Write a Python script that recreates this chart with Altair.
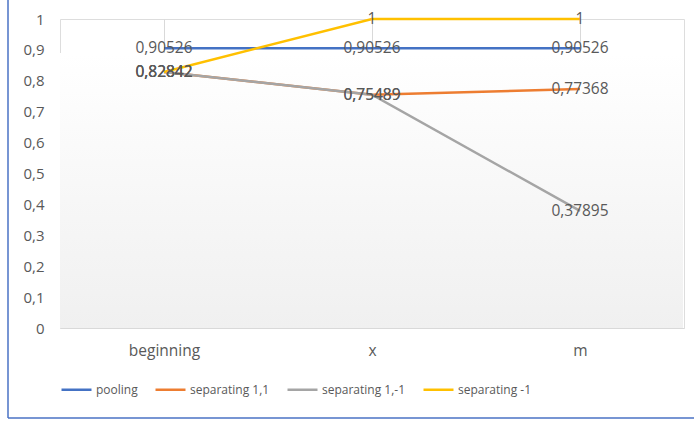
import altair as alt
import pandas as pd

# Stages on the x axis
stages = ["beginning", "x", "m"]

# One value per stage for each strategy
series_names = ["pooling", "separating 1,1", "separating 1,-1", "separating -1"]
pooling = [0.90526, 0.90526, 0.90526]
separating_1_1 = [0.82842, 0.75489, 0.77368]
separating_1_m1 = [0.82842, 0.75489, 0.37895]
separating_m1 = [0.82842, 1.0, 1.0]

colors = ["#4472C4", "#ED7D31", "#A5A5A5", "#FFC000"]

rows = []
for order, (name, vals) in enumerate(zip(series_names, [pooling, separating_1_1, separating_1_m1, separating_m1])):
    for stage, v in zip(stages, vals):
        rows.append({"stage": stage, "series": name, "value": v, "order": order})
df = pd.DataFrame(rows)

FONT = "Open Sans"
TXT = "#595959"
W, H = 624, 309
y_ticks = [0, 0.1, 0.2, 0.3, 0.4, 0.5, 0.6, 0.7, 0.8, 0.9, 1]

x_enc = alt.X("stage:N", sort=stages, title=None,
              scale=alt.Scale(type="point", padding=0.5),
              axis=alt.Axis(grid=True, gridColor="#D9D9D9", domainColor="#D9D9D9",
                            ticks=False, labelAngle=0, labelPadding=15,
                            labelFont=FONT, labelFontSize=15.5, labelColor=TXT))
y_enc = alt.Y("value:Q", title=None,
              scale=alt.Scale(domain=[0, 1], nice=False),
              axis=alt.Axis(values=y_ticks, tickCount=11,
                            grid=False, domain=False, ticks=False, labelPadding=16,
                            labelOverlap=False,
                            labelFont=FONT, labelFontSize=15, labelColor=TXT,
                            labelExpr="replace(format(datum.value, '.1~f'), '.', ',')"))
color_enc = alt.Color("series:N", sort=series_names,
                      scale=alt.Scale(domain=series_names, range=colors),
                      legend=alt.Legend(title=None, orient="none", direction="horizontal",
                                        legendX=0, legendY=354,
                                        symbolType="stroke", symbolSize=900,
                                        symbolStrokeWidth=2.5, labelOffset=3,
                                        columnPadding=12,
                                        labelFont=FONT, labelFontSize=12, labelColor=TXT))

one = pd.DataFrame({"k": [0]})

background = alt.Chart(one).mark_rect(
    color=alt.LinearGradient(gradient="linear",
                             stops=[alt.GradientStop(color="#FFFFFF", offset=0),
                                    alt.GradientStop(color="#F0F0F0", offset=1)],
                             x1=0, x2=0, y1=0, y2=1)
).encode(x=alt.value(0), x2=alt.value(623), y=alt.value(34), y2=alt.value(H))

base = alt.Chart(df)
lines = base.mark_line(strokeWidth=2.5).encode(
    x=x_enc, y=y_enc, color=color_enc, order="order:Q", detail="series:N")

labels = base.transform_calculate(
    label="replace(format(datum.value, '.5~f'), '.', ',')"
).mark_text(font=FONT, fontSize=15.5, color=TXT, baseline="middle", align="center").encode(
    x=x_enc, y=y_enc, text="label:N")

border_left = alt.Chart(one).mark_rule(color="#4A72C4", strokeWidth=1.5).encode(
    x=alt.value(-52), y=alt.value(-19), y2=alt.value(399))
border_bottom = alt.Chart(one).mark_rule(color="#4A72C4", strokeWidth=1.5).encode(
    x=alt.value(-52), x2=alt.value(634), y=alt.value(399))

chart = alt.layer(background, lines, labels, border_left, border_bottom).properties(
    width=W, height=H,
    autosize=alt.AutoSizeParams(type="none"),
    padding={"left": 60, "top": 19, "right": 10, "bottom": 95},
).configure_view(stroke=None).configure(background="white")

chart.save("out.html", embed_options={"renderer": "svg", "actions": False})
